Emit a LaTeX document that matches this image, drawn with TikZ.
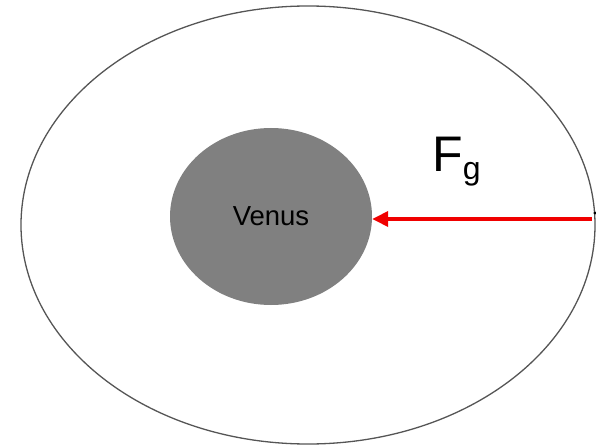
\documentclass[tikz,border=0pt]{standalone}
\usepackage{fontspec}
\setmainfont{Liberation Sans}
\usetikzlibrary{shapes.geometric,arrows.meta}
\definecolor{planetgray}{RGB}{128,128,128}
\definecolor{orbitgray}{RGB}{85,85,85}
\definecolor{forcered}{RGB}{240,0,0}
\tikzset{
  orbit/.style={ellipse, draw=orbitgray, line width=1.3pt, inner sep=0pt,
    minimum width=574pt, minimum height=438pt},
  planet/.style={ellipse, fill=planetgray, inner sep=0pt,
    minimum width=202pt, minimum height=177pt,
    font=\fontsize{27.5}{27.5}\selectfont, text=black},
  force/.style={draw=forcered, line width=3.6pt,
    -{Triangle[length=16pt,width=15pt]}},
  forcelabel/.style={font=\fontsize{50}{50}\selectfont, text=black, inner sep=0pt}
}
\begin{document}
\begin{tikzpicture}[x=1pt,y=-1pt]
\useasboundingbox (0,0) rectangle (596,446);
\node[orbit] (orb) at (308,225) {};
\node[planet] (venus) at (271,216.5) {Venus};
\coordinate (start) at (592,219);
\draw[force] (start) -- (start -| venus.east);
\fill[black] (595,213) circle (1.6pt);
\node[forcelabel, anchor=base west] (fg) at (432,172) {F\raisebox{-8pt}{\fontsize{32}{32}\selectfont g}};
\end{tikzpicture}
\end{document}
